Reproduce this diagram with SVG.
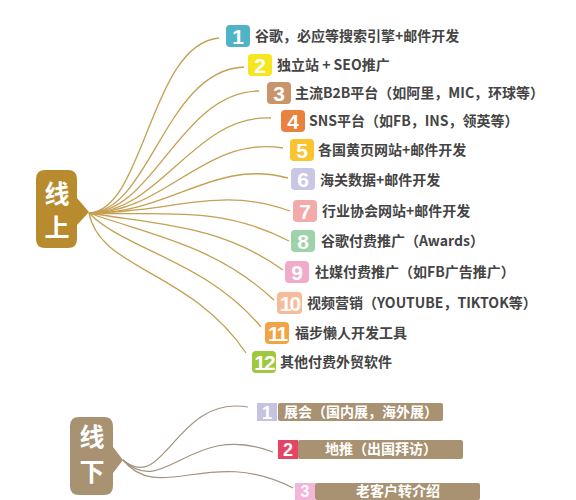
<svg xmlns="http://www.w3.org/2000/svg" width="576" height="500" viewBox="0 0 576 500">
<style>
.lbl{font-family:"Noto Sans CJK SC","Noto Sans",sans-serif;font-weight:700;font-size:14px;fill:#444}
.num{font-family:"Liberation Sans","Noto Sans",sans-serif;font-weight:700;font-size:21px;fill:#fff;text-anchor:middle}
.num2{font-family:"Liberation Sans","Noto Sans",sans-serif;font-weight:700;font-size:18px;fill:#fff;text-anchor:middle}
.big{font-family:"Noto Sans CJK SC",sans-serif;font-weight:700;font-size:25px;fill:#fff;text-anchor:middle}
.bar{font-family:"Noto Sans CJK SC",sans-serif;font-weight:700;font-size:14px;fill:#fff}
.up{fill:none;stroke:#C4A052;stroke-width:1.3}
.down{fill:none;stroke:#A3927F;stroke-width:1.2}
</style>
<rect width="576" height="500" fill="#fff"/>
<g id="connectors">
<path class="up" d="M89,213 C145,210 150,44 219,38"/>
<path class="up" d="M89,213 C150,212 165,70 244,67"/>
<path class="up" d="M89,213 C155,212 180,92 259,91"/>
<path class="up" d="M89,213 C160,213 195,114 271,118"/>
<path class="up" d="M89,213 C165,213 205,135 283,148"/>
<path class="up" d="M89,213 C170,214 215,158 288,178"/>
<path class="up" d="M89,213 C170,213 220,185 290,211"/>
<path class="up" d="M89,213 C165,216 220,205 289,241"/>
<path class="up" d="M89,213 C160,225 220,225 283,270"/>
<path class="up" d="M89,213 C150,235 215,245 274,300"/>
<path class="up" d="M89,213 C125,250 205,260 261,327"/>
<path class="up" d="M89,213 C100,270 190,270 246,353"/>
<path class="down" d="M123,460 C165,495 175,395 248,407"/>
<path class="down" d="M123,460 C165,500 190,420 273,452"/>
<path class="down" d="M123,460 C160,505 210,445 293,488"/>
</g>
<g id="online">
<path d="M45,170 H68 Q77,170 77,179 V198 L89,212 L77,225 V239 Q77,248 68,248 H45 Q36,248 36,239 V179 Q36,170 45,170 Z" fill="#B98B2F"/>
<text class="big" x="57" y="203">线</text>
<text class="big" x="57" y="237">上</text>
</g>
<g id="offline">
<path d="M79,417 H104 Q113,417 113,426 V447 L123,460 L113,473 V486 Q113,495 104,495 H79 Q70,495 70,486 V426 Q70,417 79,417 Z" fill="#A89272"/>
<text class="big" x="92" y="446">线</text>
<text class="big" x="92" y="481">下</text>
</g>
<g id="n1"><rect x="226" y="25" width="24" height="22" rx="4" fill="#4FB5C6"/><text class="num" x="238" y="44">1</text><text class="lbl" x="255" y="41">谷歌，必应等搜索引擎+邮件开发</text></g>
<g id="n2"><rect x="248" y="54" width="24" height="22" rx="4" fill="#F6E61F"/><text class="num" x="260" y="73">2</text><text class="lbl" x="277" y="70">独立站 + SEO推广</text></g>
<g id="n3"><rect x="267" y="82" width="24" height="22" rx="4" fill="#C9946A"/><text class="num" x="279" y="101">3</text><text class="lbl" x="295" y="98">主流B2B平台（如阿里，MIC，环球等）</text></g>
<g id="n4"><rect x="281" y="110" width="24" height="22" rx="4" fill="#E8823E"/><text class="num" x="293" y="129">4</text><text class="lbl" x="309" y="126">SNS平台（如FB，INS，领英等）</text></g>
<g id="n5"><rect x="290" y="139" width="24" height="22" rx="4" fill="#F9C430"/><text class="num" x="302" y="158">5</text><text class="lbl" x="318" y="155">各国黄页网站+邮件开发</text></g>
<g id="n6"><rect x="291" y="168" width="24" height="22" rx="4" fill="#CAC7E5"/><text class="num" x="303" y="187">6</text><text class="lbl" x="320" y="185">海关数据+邮件开发</text></g>
<g id="n7"><rect x="293" y="200" width="24" height="22" rx="4" fill="#F3AAA8"/><text class="num" x="305" y="219">7</text><text class="lbl" x="322" y="216">行业协会网站+邮件开发</text></g>
<g id="n8"><rect x="291" y="230" width="24" height="22" rx="4" fill="#9ED2AA"/><text class="num" x="303" y="249">8</text><text class="lbl" x="321" y="246">谷歌付费推广（Awards）</text></g>
<g id="n9"><rect x="285" y="261" width="24" height="22" rx="4" fill="#F2AACB"/><text class="num" x="297" y="280">9</text><text class="lbl" x="315" y="277">社媒付费推广（如FB广告推广）</text></g>
<g id="n10"><rect x="277" y="292" width="25" height="22" rx="4" fill="#F7BB9A"/><text class="num" x="289.5" y="311" letter-spacing="-2">10</text><text class="lbl" x="307" y="308">视频营销（YOUTUBE，TIKTOK等）</text></g>
<g id="n11"><rect x="265" y="322" width="24" height="22" rx="4" fill="#F2A444"/><text class="num" x="277" y="341" letter-spacing="-2">11</text><text class="lbl" x="295" y="338">福步懒人开发工具</text></g>
<g id="n12"><rect x="252" y="351" width="24" height="22" rx="4" fill="#A0C83E"/><text class="num" x="264" y="370" letter-spacing="-2">12</text><text class="lbl" x="280" y="367">其他付费外贸软件</text></g>
<g id="m1"><rect x="257" y="403" width="20" height="18" fill="#C6C3E1"/><text class="num2" x="267" y="419">1</text><rect x="278" y="403" width="165" height="18" rx="2" fill="#A89272"/><text class="bar" x="284" y="417">展会（国内展，海外展）</text></g>
<g id="m2"><rect x="278" y="440" width="20" height="19" fill="#E34562"/><text class="num2" x="288" y="456">2</text><rect x="298" y="440" width="165" height="19" rx="2" fill="#A89272"/><text class="bar" x="381" y="454" text-anchor="middle">地推（出国拜访）</text></g>
<g id="m3"><rect x="295" y="483" width="20" height="17" fill="#F3B5D8"/><text class="num2" x="305" y="497" style="font-size:16px">3</text><rect x="315" y="483" width="165" height="17" rx="2" fill="#A89272"/><text class="bar" x="398" y="496" text-anchor="middle">老客户转介绍</text></g>
</svg>
